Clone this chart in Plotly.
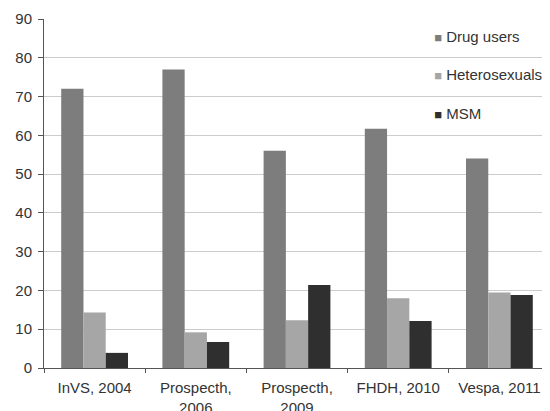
import plotly.graph_objects as go

categories = ["InVS, 2004", "Prospecth,<br>2006", "Prospecth,<br>2009", "FHDH, 2010", "Vespa, 2011"]
drug_users = [72, 77, 56, 61.7, 54]
heterosexuals = [14.3, 9.2, 12.3, 18, 19.5]
msm = [3.9, 6.7, 21.4, 12.1, 18.8]
y_ticks = [0, 10, 20, 30, 40, 50, 60, 70, 80, 90]

series = [
    ("Drug users", drug_users, "#7d7d7d"),
    ("Heterosexuals", heterosexuals, "#a6a6a6"),
    ("MSM", msm, "#2f2f2f"),
]

fig = go.Figure()
for name, vals, col in series:
    fig.add_trace(go.Bar(x=categories, y=vals, name=name, marker_color=col,
                         marker_line_width=0, showlegend=False))
for name, vals, col in series:
    label = f"<span style='font-size:13px;color:{col}'>■</span> {name}"
    fig.add_trace(go.Scatter(x=[None], y=[None], name=label, mode="markers",
                             marker=dict(symbol="square", size=1, color="rgba(0,0,0,0)"),
                             legendgroup=name, showlegend=True))

fig.update_layout(
    width=542, height=403,
    margin=dict(l=36, r=0, t=11, b=43, autoexpand=False),
    paper_bgcolor="white", plot_bgcolor="white",
    barmode="group", bargap=0.34, bargroupgap=0,
    font=dict(family="Liberation Sans, Arial, sans-serif", size=15, color="#333333"),
    showlegend=True,
    legend=dict(x=0.692, y=0.998, xanchor="left", yanchor="top",
                font=dict(size=15, color="#333333"), bgcolor="rgba(0,0,0,0)",
                tracegroupgap=16, itemwidth=30),
)
fig.update_yaxes(range=[0, 90], tickvals=y_ticks, showgrid=True, gridcolor="#cccccc",
                 gridwidth=1, showline=True, linecolor="#555555", linewidth=1,
                 ticks="outside", ticklen=5, tickcolor="#555555", zeroline=False,
                 tickfont=dict(size=15), automargin=False, ticklabelstandoff=3)
fig.update_xaxes(showline=True, linecolor="#555555", linewidth=1, ticks="outside",
                 tickson="boundaries", ticklen=4, tickcolor="#555555",
                 tickfont=dict(size=15), tickangle=0, automargin=False,
                 ticklabelstandoff=6)

fig.write_html("out.html")
